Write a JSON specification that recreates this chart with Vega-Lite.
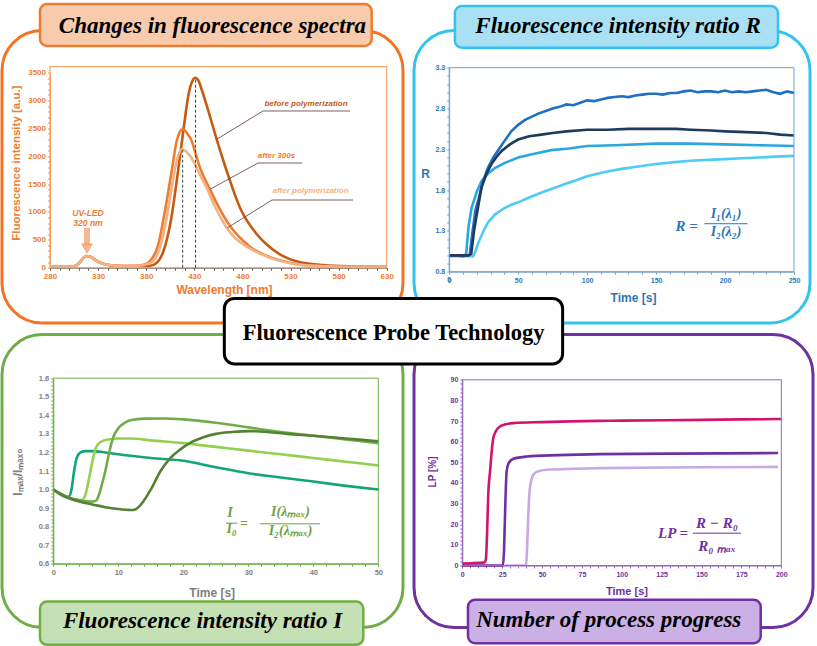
{
  "$schema": "https://vega.github.io/schema/vega-lite/v6.json",
  "background": "white",
  "padding": {"left": 0, "top": 0.5, "right": 0, "bottom": 0},
  "autosize": {"type": "pad"},
  "bounds": "flush",
  "spacing": {"row": 11, "column": 11},
  "columns": 2,
  "resolve": {"scale": {"color": "independent"}},
  "config": {
    "view": {"stroke": null},
    "axis": {"labelFont": "Liberation Sans", "titleFont": "Liberation Sans", "labelFontWeight": "bold", "titleFontWeight": "bold", "grid": false, "labelFlush": false, "labelOverlap": false, "labelBound": false, "tickSize": 2.5, "domainWidth": 1, "tickWidth": 1}
  },
  "concat": [
    {
      "width": 401, "height": 292.5,
      "view": {"stroke": "#f47322", "strokeWidth": 3, "cornerRadius": 40, "fill": null},
      "data": {"values": [{}]},
      "layer": [
        {
          "data": {"values": [
            {"s":"before polymerization","x":280,"y":20},{"s":"before polymerization","x":300,"y":20},{"s":"before polymerization","x":306,"y":30},{"s":"before polymerization","x":310,"y":80},{"s":"before polymerization","x":315,"y":180},{"s":"before polymerization","x":318,"y":210},{"s":"before polymerization","x":322,"y":195},{"s":"before polymerization","x":328,"y":130},{"s":"before polymerization","x":335,"y":70},{"s":"before polymerization","x":345,"y":40},{"s":"before polymerization","x":360,"y":30},{"s":"before polymerization","x":375,"y":28},{"s":"before polymerization","x":384,"y":35},{"s":"before polymerization","x":391,"y":90},{"s":"before polymerization","x":398,"y":300},{"s":"before polymerization","x":406,"y":880},{"s":"before polymerization","x":413,"y":1720},{"s":"before polymerization","x":419,"y":2510},{"s":"before polymerization","x":424,"y":3110},{"s":"before polymerization","x":428,"y":3350},{"s":"before polymerization","x":431,"y":3410},{"s":"before polymerization","x":434,"y":3370},{"s":"before polymerization","x":438,"y":3180},{"s":"before polymerization","x":444.6,"y":2813},{"s":"before polymerization","x":453.3,"y":2305},{"s":"before polymerization","x":463.7,"y":1736},{"s":"before polymerization","x":477.5,"y":1077},{"s":"before polymerization","x":495,"y":600},{"s":"before polymerization","x":505,"y":420},{"s":"before polymerization","x":519,"y":240},{"s":"before polymerization","x":530,"y":150},{"s":"before polymerization","x":543,"y":90},{"s":"before polymerization","x":564,"y":48},{"s":"before polymerization","x":590,"y":25},{"s":"before polymerization","x":630,"y":15},
            {"s":"after 300s","x":280,"y":20},{"s":"after 300s","x":300,"y":20},{"s":"after 300s","x":306,"y":30},{"s":"after 300s","x":310,"y":80},{"s":"after 300s","x":315,"y":180},{"s":"after 300s","x":318,"y":210},{"s":"after 300s","x":322,"y":195},{"s":"after 300s","x":328,"y":130},{"s":"after 300s","x":335,"y":70},{"s":"after 300s","x":345,"y":40},{"s":"after 300s","x":360,"y":30},{"s":"after 300s","x":370,"y":35},{"s":"after 300s","x":377,"y":55},{"s":"after 300s","x":384,"y":120},{"s":"after 300s","x":392.6,"y":420},{"s":"after 300s","x":399.5,"y":1018},{"s":"after 300s","x":406.5,"y":1736},{"s":"after 300s","x":411.7,"y":2274},{"s":"after 300s","x":415,"y":2440},{"s":"after 300s","x":417.5,"y":2484},{"s":"after 300s","x":420,"y":2465},{"s":"after 300s","x":423,"y":2400},{"s":"after 300s","x":427.3,"y":2274},{"s":"after 300s","x":431,"y":2070},{"s":"after 300s","x":435.9,"y":1795},{"s":"after 300s","x":446.3,"y":1407},{"s":"after 300s","x":455,"y":1100},{"s":"after 300s","x":463.7,"y":838},{"s":"after 300s","x":472,"y":640},{"s":"after 300s","x":481,"y":479},{"s":"after 300s","x":490,"y":350},{"s":"after 300s","x":501.7,"y":240},{"s":"after 300s","x":515,"y":150},{"s":"after 300s","x":529.5,"y":90},{"s":"after 300s","x":558,"y":30},{"s":"after 300s","x":590,"y":18},{"s":"after 300s","x":630,"y":12},
            {"s":"after polymerization","x":280,"y":20},{"s":"after polymerization","x":300,"y":20},{"s":"after polymerization","x":306,"y":30},{"s":"after polymerization","x":310,"y":80},{"s":"after polymerization","x":315,"y":180},{"s":"after polymerization","x":318,"y":210},{"s":"after polymerization","x":322,"y":195},{"s":"after polymerization","x":328,"y":130},{"s":"after polymerization","x":335,"y":70},{"s":"after polymerization","x":345,"y":40},{"s":"after polymerization","x":360,"y":30},{"s":"after polymerization","x":372,"y":35},{"s":"after polymerization","x":380,"y":60},{"s":"after polymerization","x":387.4,"y":120},{"s":"after polymerization","x":394.3,"y":359},{"s":"after polymerization","x":401.3,"y":898},{"s":"after polymerization","x":406.5,"y":1436},{"s":"after polymerization","x":411.7,"y":1915},{"s":"after polymerization","x":414.5,"y":2070},{"s":"after polymerization","x":416.9,"y":2125},{"s":"after polymerization","x":419.5,"y":2110},{"s":"after polymerization","x":423,"y":2060},{"s":"after polymerization","x":429,"y":1915},{"s":"after polymerization","x":435,"y":1700},{"s":"after polymerization","x":442.9,"y":1436},{"s":"after polymerization","x":452,"y":1080},{"s":"after polymerization","x":463.7,"y":718},{"s":"after polymerization","x":472,"y":540},{"s":"after polymerization","x":481,"y":419},{"s":"after polymerization","x":495,"y":280},{"s":"after polymerization","x":508.7,"y":180},{"s":"after polymerization","x":522,"y":110},{"s":"after polymerization","x":536,"y":60},{"s":"after polymerization","x":560,"y":30},{"s":"after polymerization","x":600,"y":15},{"s":"after polymerization","x":630,"y":12}
          ]},
          "mark": {"type": "line", "strokeWidth": 2.6, "interpolate": "monotone"},
          "encoding": {
            "x": {"field": "x", "type": "quantitative",
              "scale": {"domain": [280, 630], "range": [48, 384.7], "nice": false, "zero": false},
              "axis": {"tickCount": 35, "labelExpr": "datum.value % 50 === 30 ? datum.label : ''", "offset": -55.3, "labelOverlap": false, "labelFontSize": 8, "labelColor": "#ed7d31", "labelPadding": 2, "tickColor": "#595959", "domainColor": "#595959", "title": "Wavelength [nm]", "titleFontSize": 12, "titleColor": "#ed7d31", "titleX": 222, "titleY": 25.5, "titleAlign": "center", "titleBaseline": "alphabetic", "titleAngle": 0}},
            "y": {"field": "y", "type": "quantitative",
              "scale": {"domain": [0, 3500], "range": [237.2, 42.2], "nice": false, "zero": false},
              "axis": {"tickCount": 35, "format": "d", "labelExpr": "datum.value % 500 === 0 ? datum.label : ''", "offset": -48, "labelOverlap": false, "labelFontSize": 8, "labelColor": "#ed7d31", "labelPadding": 2, "tickColor": "#f08a4b", "domainColor": "#f08a4b", "title": "Fluorescence intensity [a.u.]", "titleFontSize": 11.5, "titleColor": "#ed7d31", "titleX": -34, "titleY": 132.2, "titleAngle": 270, "titleAlign": "center", "titleBaseline": "middle"}},
            "color": {"field": "s", "type": "nominal", "legend": null,
              "scale": {"domain": ["before polymerization", "after 300s", "after polymerization"], "range": ["#c55a11", "#ed7d31", "#f4b183"]}}
          }
        },
        {"mark": {"type": "rect", "fill": null, "stroke": "#f4a56c", "strokeWidth": 1.2},
         "encoding": {"x": {"datum": 280, "type": "quantitative"}, "x2": {"datum": 630}, "y": {"datum": 0, "type": "quantitative"}, "y2": {"datum": 3610}}},
        {"mark": {"type": "rule", "color": "#404040", "strokeWidth": 1, "strokeDash": [3, 2]},
         "encoding": {"x": {"datum": 431.3, "type": "quantitative"}, "y": {"datum": 0, "type": "quantitative"}, "y2": {"datum": 3410}}},
        {"mark": {"type": "rule", "color": "#404040", "strokeWidth": 1, "strokeDash": [3, 2]},
         "encoding": {"x": {"datum": 417.9, "type": "quantitative"}, "y": {"datum": 0, "type": "quantitative"}, "y2": {"datum": 2125}}},
        {"mark": {"type": "rule", "color": "#6b4f4f", "strokeWidth": 0.9},
         "encoding": {"x": {"datum": 501.4, "type": "quantitative"}, "x2": {"datum": 591.9}, "y": {"datum": 2813, "type": "quantitative"}}},
        {"mark": {"type": "rule", "color": "#6b4f4f", "strokeWidth": 0.9},
         "encoding": {"x": {"datum": 501.4, "type": "quantitative"}, "x2": {"datum": 453.3}, "y": {"datum": 2813, "type": "quantitative"}, "y2": {"datum": 2305}}},
        {"mark": {"type": "rule", "color": "#6b4f4f", "strokeWidth": 0.9},
         "encoding": {"x": {"datum": 496.2, "type": "quantitative"}, "x2": {"datum": 542}, "y": {"datum": 1879, "type": "quantitative"}}},
        {"mark": {"type": "rule", "color": "#6b4f4f", "strokeWidth": 0.9},
         "encoding": {"x": {"datum": 496.2, "type": "quantitative"}, "x2": {"datum": 446.3}, "y": {"datum": 1879, "type": "quantitative"}, "y2": {"datum": 1407}}},
        {"mark": {"type": "rule", "color": "#6b4f4f", "strokeWidth": 0.9},
         "encoding": {"x": {"datum": 510.8, "type": "quantitative"}, "x2": {"datum": 595}, "y": {"datum": 1215, "type": "quantitative"}}},
        {"mark": {"type": "rule", "color": "#6b4f4f", "strokeWidth": 0.9},
         "encoding": {"x": {"datum": 510.8, "type": "quantitative"}, "x2": {"datum": 464}, "y": {"datum": 1215, "type": "quantitative"}, "y2": {"datum": 712}}},
        {"mark": {"type": "text", "text": "before polymerization", "font": "Liberation Sans", "fontWeight": "bold", "fontStyle": "italic", "fontSize": 8, "color": "#c55a11", "align": "center", "baseline": "alphabetic"},
         "encoding": {"x": {"datum": 546.1, "type": "quantitative"}, "y": {"datum": 2902, "type": "quantitative"}}},
        {"mark": {"type": "text", "text": "after 300s", "font": "Liberation Sans", "fontWeight": "bold", "fontStyle": "italic", "fontSize": 8, "color": "#ed7d31", "align": "center", "baseline": "alphabetic"},
         "encoding": {"x": {"datum": 515.4, "type": "quantitative"}, "y": {"datum": 1969, "type": "quantitative"}}},
        {"mark": {"type": "text", "text": "after polymerization", "font": "Liberation Sans", "fontWeight": "bold", "fontStyle": "italic", "fontSize": 8, "color": "#f4b183", "align": "center", "baseline": "alphabetic"},
         "encoding": {"x": {"datum": 550.8, "type": "quantitative"}, "y": {"datum": 1341, "type": "quantitative"}}},
        {"mark": {"type": "text", "text": "UV-LED", "font": "Liberation Sans", "fontWeight": "bold", "fontStyle": "italic", "fontSize": 8.5, "color": "#ed7d31", "align": "center", "baseline": "alphabetic"},
         "encoding": {"x": {"datum": 319.5, "type": "quantitative"}, "y": {"datum": 928, "type": "quantitative"}}},
        {"mark": {"type": "text", "text": "320 nm", "font": "Liberation Sans", "fontWeight": "bold", "fontStyle": "italic", "fontSize": 8.5, "color": "#ed7d31", "align": "center", "baseline": "alphabetic"},
         "encoding": {"x": {"datum": 319.5, "type": "quantitative"}, "y": {"datum": 740, "type": "quantitative"}}},
        {"mark": {"type": "rule", "color": "#f6b890", "strokeWidth": 6},
         "encoding": {"x": {"datum": 318.5, "type": "quantitative"}, "y": {"datum": 713, "type": "quantitative"}, "y2": {"datum": 410}}},
        {"mark": {"type": "point", "shape": "triangle-down", "size": 110, "filled": true, "fill": "#f6b890", "stroke": "#ed7d31", "strokeWidth": 0.6, "opacity": 1},
         "encoding": {"x": {"datum": 318.5, "type": "quantitative"}, "y": {"datum": 345, "type": "quantitative"}}},
        {"mark": {"type": "rect", "fill": "#f8cbad", "stroke": "#ed7d31", "strokeWidth": 2.5, "cornerRadius": 7},
         "encoding": {"x": {"datum": 269.6, "type": "quantitative"}, "x2": {"datum": 614.4}, "y": {"datum": 4733, "type": "quantitative"}, "y2": {"datum": 3980}}},
        {"mark": {"type": "text", "text": "Changes in fluorescence spectra", "font": "Liberation Serif", "fontWeight": "bold", "fontStyle": "italic", "fontSize": 23, "color": "#000000", "align": "center", "baseline": "alphabetic"},
         "encoding": {"x": {"datum": 448.9, "type": "quantitative"}, "y": {"datum": 4218, "type": "quantitative"}}}
      ]
    },
    {
      "width": 396, "height": 292.5,
      "view": {"stroke": "#33c3f0", "strokeWidth": 3, "cornerRadius": 40, "fill": null},
      "data": {"values": [{}]},
      "layer": [
        {
          "data": {"values": [
            {"s":"s4","x":0,"y":0.99},{"s":"s4","x":10,"y":0.99},{"s":"s4","x":17.4,"y":0.99},{"s":"s4","x":19,"y":1.05},{"s":"s4","x":21,"y":1.15},{"s":"s4","x":24.9,"y":1.3},{"s":"s4","x":28,"y":1.4},{"s":"s4","x":33.1,"y":1.5},{"s":"s4","x":40,"y":1.58},{"s":"s4","x":45,"y":1.62},{"s":"s4","x":50,"y":1.65},{"s":"s4","x":58,"y":1.71},{"s":"s4","x":66.9,"y":1.77},{"s":"s4","x":75,"y":1.82},{"s":"s4","x":85,"y":1.88},{"s":"s4","x":92,"y":1.92},{"s":"s4","x":100,"y":1.97},{"s":"s4","x":112,"y":2.02},{"s":"s4","x":125,"y":2.06},{"s":"s4","x":137,"y":2.09},{"s":"s4","x":150,"y":2.12},{"s":"s4","x":162,"y":2.14},{"s":"s4","x":175,"y":2.16},{"s":"s4","x":187,"y":2.17},{"s":"s4","x":200,"y":2.18},{"s":"s4","x":212,"y":2.19},{"s":"s4","x":225,"y":2.2},{"s":"s4","x":237,"y":2.21},{"s":"s4","x":250,"y":2.22},
            {"s":"s3","x":0,"y":1.0},{"s":"s3","x":11,"y":1.0},{"s":"s3","x":12.3,"y":1.02},{"s":"s3","x":14,"y":1.35},{"s":"s3","x":16.2,"y":1.58},{"s":"s3","x":20,"y":1.78},{"s":"s3","x":23.4,"y":1.91},{"s":"s3","x":28,"y":2.0},{"s":"s3","x":33.1,"y":2.07},{"s":"s3","x":40,"y":2.13},{"s":"s3","x":50,"y":2.2},{"s":"s3","x":60,"y":2.24},{"s":"s3","x":74,"y":2.29},{"s":"s3","x":87,"y":2.31},{"s":"s3","x":100,"y":2.34},{"s":"s3","x":120,"y":2.35},{"s":"s3","x":150,"y":2.37},{"s":"s3","x":175,"y":2.37},{"s":"s3","x":200,"y":2.36},{"s":"s3","x":225,"y":2.35},{"s":"s3","x":250,"y":2.34},
            {"s":"s1","x":0,"y":1.0},{"s":"s1","x":5,"y":1.0},{"s":"s1","x":10,"y":0.99},{"s":"s1","x":14,"y":1.0},{"s":"s1","x":15,"y":1.02},{"s":"s1","x":17,"y":1.3},{"s":"s1","x":19,"y":1.55},{"s":"s1","x":21,"y":1.67},{"s":"s1","x":24,"y":1.88},{"s":"s1","x":28,"y":2.07},{"s":"s1","x":32,"y":2.2},{"s":"s1","x":36,"y":2.3},{"s":"s1","x":40,"y":2.4},{"s":"s1","x":45,"y":2.52},{"s":"s1","x":50,"y":2.6},{"s":"s1","x":55,"y":2.66},{"s":"s1","x":60,"y":2.7},{"s":"s1","x":65,"y":2.74},{"s":"s1","x":70,"y":2.77},{"s":"s1","x":75,"y":2.8},{"s":"s1","x":80,"y":2.82},{"s":"s1","x":85,"y":2.85},{"s":"s1","x":90,"y":2.84},{"s":"s1","x":95,"y":2.87},{"s":"s1","x":100,"y":2.9},{"s":"s1","x":105,"y":2.89},{"s":"s1","x":110,"y":2.91},{"s":"s1","x":115,"y":2.93},{"s":"s1","x":120,"y":2.94},{"s":"s1","x":125,"y":2.95},{"s":"s1","x":130,"y":2.94},{"s":"s1","x":135,"y":2.96},{"s":"s1","x":140,"y":2.97},{"s":"s1","x":145,"y":2.98},{"s":"s1","x":150,"y":2.98},{"s":"s1","x":155,"y":2.97},{"s":"s1","x":160,"y":2.99},{"s":"s1","x":165,"y":2.99},{"s":"s1","x":170,"y":3.01},{"s":"s1","x":175,"y":3.02},{"s":"s1","x":180,"y":3.0},{"s":"s1","x":185,"y":3.01},{"s":"s1","x":190,"y":3.01},{"s":"s1","x":195,"y":3.0},{"s":"s1","x":200,"y":3.02},{"s":"s1","x":205,"y":3.0},{"s":"s1","x":210,"y":3.01},{"s":"s1","x":215,"y":3.0},{"s":"s1","x":220,"y":3.01},{"s":"s1","x":225,"y":3.02},{"s":"s1","x":230,"y":3.03},{"s":"s1","x":235,"y":3.0},{"s":"s1","x":240,"y":2.98},{"s":"s1","x":245,"y":3.01},{"s":"s1","x":250,"y":2.99},
            {"s":"s2","x":0,"y":1.0},{"s":"s2","x":14,"y":1.0},{"s":"s2","x":16,"y":1.02},{"s":"s2","x":18,"y":1.3},{"s":"s2","x":20,"y":1.5},{"s":"s2","x":23.4,"y":1.83},{"s":"s2","x":27,"y":2.0},{"s":"s2","x":30.7,"y":2.12},{"s":"s2","x":34,"y":2.2},{"s":"s2","x":38,"y":2.28},{"s":"s2","x":44,"y":2.36},{"s":"s2","x":50,"y":2.42},{"s":"s2","x":58,"y":2.46},{"s":"s2","x":66.9,"y":2.48},{"s":"s2","x":75,"y":2.5},{"s":"s2","x":85,"y":2.52},{"s":"s2","x":100,"y":2.54},{"s":"s2","x":115,"y":2.54},{"s":"s2","x":130,"y":2.55},{"s":"s2","x":150,"y":2.55},{"s":"s2","x":165,"y":2.55},{"s":"s2","x":175,"y":2.54},{"s":"s2","x":190,"y":2.53},{"s":"s2","x":200,"y":2.52},{"s":"s2","x":215,"y":2.51},{"s":"s2","x":230,"y":2.5},{"s":"s2","x":240,"y":2.48},{"s":"s2","x":250,"y":2.47}
          ]},
          "mark": {"type": "line", "strokeWidth": 2.6},
          "encoding": {
            "x": {"field": "x", "type": "quantitative",
              "scale": {"domain": [0, 250], "range": [35.2, 380], "nice": false, "zero": false},
              "axis": {"tickCount": 25, "labelExpr": "datum.value % 50 === 0 ? format(datum.value, 'd') : ''", "offset": -51.3, "labelOverlap": false, "labelFontSize": 7, "labelColor": "#2e75b6", "labelPadding": 2, "tickColor": "#7f9fbf", "domainColor": "#7f9fbf", "title": "Time [s]", "titleFontSize": 12, "titleColor": "#2e75b6", "titleX": 219, "titleY": 29.3, "titleAlign": "center", "titleBaseline": "alphabetic", "titleAngle": 0}},
            "y": {"field": "y", "type": "quantitative",
              "scale": {"domain": [0.8, 3.3], "range": [241.2, 37.2], "nice": false, "zero": false},
              "axis": {"tickCount": 25, "labelExpr": "round(datum.value * 10) % 5 === 3 ? format(datum.value, '.1f') : ''", "offset": -35.2, "labelOverlap": false, "labelFontSize": 7, "labelColor": "#2e75b6", "labelPadding": 2, "tickColor": "#7f9fbf", "domainColor": "#7f9fbf", "title": "R", "titleFontSize": 12, "titleColor": "#2e75b6", "titleX": -24, "titleY": 142.5, "titleAngle": 0, "titleAlign": "center", "titleBaseline": "middle"}},
            "color": {"field": "s", "type": "nominal", "legend": null,
              "scale": {"domain": ["s1", "s2", "s3", "s4"], "range": ["#1f6fc4", "#1e3b5e", "#2aa7de", "#4fcbf5"]}}
          }
        },
        {"mark": {"type": "rect", "fill": null, "stroke": "#6fa3d8", "strokeWidth": 1},
         "encoding": {"x": {"datum": 0, "type": "quantitative"}, "x2": {"datum": 250}, "y": {"datum": 0.8, "type": "quantitative"}, "y2": {"datum": 3.3}}},
        {"mark": {"type": "text", "text": "0", "font": "Liberation Sans", "fontWeight": "bold", "fontSize": 7, "color": "#2e75b6", "align": "center", "baseline": "top", "dy": 4.5},
         "encoding": {"x": {"datum": 0, "type": "quantitative"}, "y": {"datum": 0.8, "type": "quantitative"}}},
        {"mark": {"type": "text", "text": "R =", "font": "Liberation Serif", "fontWeight": "bold", "fontStyle": "italic", "fontSize": 15, "color": "#2e75b6", "align": "center", "baseline": "alphabetic"},
         "encoding": {"x": {"datum": 172.1, "type": "quantitative"}, "y": {"datum": 1.299, "type": "quantitative"}}},
        {"mark": {"type": "text", "text": "I₁(λ₁)", "font": "Liberation Serif", "fontWeight": "bold", "fontStyle": "italic", "fontSize": 14, "color": "#2e75b6", "align": "center", "baseline": "alphabetic"},
         "encoding": {"x": {"datum": 200.7, "type": "quantitative"}, "y": {"datum": 1.454, "type": "quantitative"}}},
        {"mark": {"type": "rule", "color": "#2e75b6", "strokeWidth": 1},
         "encoding": {"x": {"datum": 185, "type": "quantitative"}, "x2": {"datum": 216.2}, "y": {"datum": 1.388, "type": "quantitative"}}},
        {"mark": {"type": "text", "text": "I₂(λ₂)", "font": "Liberation Serif", "fontWeight": "bold", "fontStyle": "italic", "fontSize": 14, "color": "#2e75b6", "align": "center", "baseline": "alphabetic"},
         "encoding": {"x": {"datum": 200.7, "type": "quantitative"}, "y": {"datum": 1.2375, "type": "quantitative"}}},
        {"mark": {"type": "rect", "fill": "#a9e0f4", "stroke": "#33c3f0", "strokeWidth": 2.5, "cornerRadius": 7},
         "encoding": {"x": {"datum": 4.13, "type": "quantitative"}, "x2": {"datum": 238.4}, "y": {"datum": 4.056, "type": "quantitative"}, "y2": {"datum": 3.545}}},
        {"mark": {"type": "text", "text": "Fluorescence intensity ratio R", "font": "Liberation Serif", "fontWeight": "bold", "fontStyle": "italic", "fontSize": 23, "color": "#000000", "align": "center", "baseline": "alphabetic"},
         "encoding": {"x": {"datum": 122.5, "type": "quantitative"}, "y": {"datum": 3.729, "type": "quantitative"}}}
      ]
    },
    {
      "width": 401, "height": 293,
      "view": {"stroke": "#70ad47", "strokeWidth": 3, "cornerRadius": 40, "fill": null},
      "data": {"values": [{}]},
      "layer": [
        {
          "data": {"values": [
            {"s":"g1","x":0,"y":1.0},{"s":"g1","x":1,"y":0.975},{"s":"g1","x":2,"y":0.96},{"s":"g1","x":2.4,"y":0.962},{"s":"g1","x":2.8,"y":1.0},{"s":"g1","x":3.2,"y":1.1},{"s":"g1","x":3.6,"y":1.17},{"s":"g1","x":4.2,"y":1.2},{"s":"g1","x":5,"y":1.207},{"s":"g1","x":6,"y":1.207},{"s":"g1","x":8,"y":1.2},{"s":"g1","x":10,"y":1.19},{"s":"g1","x":15,"y":1.17},{"s":"g1","x":20,"y":1.155},{"s":"g1","x":25,"y":1.12},{"s":"g1","x":30,"y":1.088},{"s":"g1","x":35,"y":1.065},{"s":"g1","x":40,"y":1.043},{"s":"g1","x":45,"y":1.02},{"s":"g1","x":50,"y":1.0},
            {"s":"g2","x":0,"y":1.0},{"s":"g2","x":2,"y":0.96},{"s":"g2","x":4,"y":0.943},{"s":"g2","x":4.5,"y":0.945},{"s":"g2","x":5,"y":0.98},{"s":"g2","x":5.5,"y":1.06},{"s":"g2","x":6,"y":1.15},{"s":"g2","x":6.5,"y":1.22},{"s":"g2","x":7.2,"y":1.255},{"s":"g2","x":8.5,"y":1.27},{"s":"g2","x":10,"y":1.275},{"s":"g2","x":12,"y":1.275},{"s":"g2","x":15,"y":1.265},{"s":"g2","x":20,"y":1.25},{"s":"g2","x":25,"y":1.23},{"s":"g2","x":30,"y":1.21},{"s":"g2","x":35,"y":1.19},{"s":"g2","x":40,"y":1.17},{"s":"g2","x":45,"y":1.15},{"s":"g2","x":50,"y":1.13},
            {"s":"g3","x":0,"y":1.0},{"s":"g3","x":3,"y":0.95},{"s":"g3","x":6,"y":0.935},{"s":"g3","x":6.6,"y":0.94},{"s":"g3","x":7,"y":0.97},{"s":"g3","x":7.5,"y":1.03},{"s":"g3","x":8,"y":1.1},{"s":"g3","x":8.6,"y":1.2},{"s":"g3","x":9.2,"y":1.28},{"s":"g3","x":10,"y":1.33},{"s":"g3","x":11,"y":1.36},{"s":"g3","x":12,"y":1.375},{"s":"g3","x":14,"y":1.382},{"s":"g3","x":17,"y":1.383},{"s":"g3","x":20,"y":1.378},{"s":"g3","x":25,"y":1.36},{"s":"g3","x":30,"y":1.335},{"s":"g3","x":35,"y":1.31},{"s":"g3","x":40,"y":1.29},{"s":"g3","x":45,"y":1.27},{"s":"g3","x":50,"y":1.25},
            {"s":"g4","x":0,"y":1.0},{"s":"g4","x":2,"y":0.96},{"s":"g4","x":4,"y":0.935},{"s":"g4","x":6,"y":0.92},{"s":"g4","x":8,"y":0.905},{"s":"g4","x":10,"y":0.895},{"s":"g4","x":12,"y":0.89},{"s":"g4","x":12.6,"y":0.893},{"s":"g4","x":13.5,"y":0.92},{"s":"g4","x":15,"y":1.0},{"s":"g4","x":16.5,"y":1.1},{"s":"g4","x":18,"y":1.17},{"s":"g4","x":19.5,"y":1.215},{"s":"g4","x":21,"y":1.25},{"s":"g4","x":23,"y":1.28},{"s":"g4","x":25,"y":1.3},{"s":"g4","x":27.5,"y":1.31},{"s":"g4","x":30,"y":1.315},{"s":"g4","x":33,"y":1.31},{"s":"g4","x":36,"y":1.3},{"s":"g4","x":40,"y":1.29},{"s":"g4","x":45,"y":1.275},{"s":"g4","x":50,"y":1.26}
          ]},
          "mark": {"type": "line", "strokeWidth": 2.6, "interpolate": "monotone"},
          "encoding": {
            "x": {"field": "x", "type": "quantitative",
              "scale": {"domain": [0, 50], "range": [51.3, 376.3], "nice": false, "zero": false},
              "axis": {"tickCount": 25, "labelExpr": "datum.value % 10 === 0 ? format(datum.value, 'd') : ''", "offset": -63.7, "labelOverlap": false, "labelFontSize": 7.5, "labelColor": "#7f7f7f", "labelPadding": 2, "tickColor": "#70ad47", "domainColor": "#70ad47", "title": "Time [s]", "titleFontSize": 12, "titleColor": "#7f7f7f", "titleX": 209.7, "titleY": 32.7, "titleAlign": "center", "titleBaseline": "alphabetic", "titleAngle": 0}},
            "y": {"field": "y", "type": "quantitative",
              "scale": {"domain": [0.6, 1.6], "range": [229.3, 43.7], "nice": false, "zero": false},
              "axis": {"tickCount": 50, "labelExpr": "abs(datum.value * 10 - round(datum.value * 10)) < 0.001 ? format(datum.value, '.1f') : ''", "offset": -51.3, "labelOverlap": false, "labelFontSize": 7.5, "labelColor": "#7f7f7f", "labelPadding": 2, "tickColor": "#70ad47", "domainColor": "#70ad47", "title": "Iₘₐₓ/Iₘₐₓ₀", "titleFontSize": 12, "titleColor": "#7f7f7f", "titleX": -36.3, "titleY": 137, "titleAngle": 270, "titleAlign": "center", "titleBaseline": "middle"}},
            "color": {"field": "s", "type": "nominal", "legend": null,
              "scale": {"domain": ["g1", "g2", "g3", "g4"], "range": ["#12a57a", "#92d050", "#70ad47", "#548235"]}}
          }
        },
        {"mark": {"type": "rect", "fill": null, "stroke": "#70ad47", "strokeWidth": 1},
         "encoding": {"x": {"datum": 0, "type": "quantitative"}, "x2": {"datum": 50}, "y": {"datum": 0.6, "type": "quantitative"}, "y2": {"datum": 1.6}}},
        {"mark": {"type": "text", "text": "I", "font": "Liberation Serif", "fontWeight": "bold", "fontStyle": "italic", "fontSize": 14, "color": "#6aa341", "align": "center", "baseline": "alphabetic"},
         "encoding": {"x": {"datum": 27.18, "type": "quantitative"}, "y": {"datum": 0.8548, "type": "quantitative"}}},
        {"mark": {"type": "rule", "color": "#6aa341", "strokeWidth": 1},
         "encoding": {"x": {"datum": 26.57, "type": "quantitative"}, "x2": {"datum": 28.31}, "y": {"datum": 0.8188, "type": "quantitative"}}},
        {"mark": {"type": "text", "text": "I₀", "font": "Liberation Serif", "fontWeight": "bold", "fontStyle": "italic", "fontSize": 14, "color": "#6aa341", "align": "center", "baseline": "alphabetic"},
         "encoding": {"x": {"datum": 27.43, "type": "quantitative"}, "y": {"datum": 0.7649, "type": "quantitative"}}},
        {"mark": {"type": "text", "text": "=", "font": "Liberation Serif", "fontWeight": "bold", "fontSize": 14, "color": "#6aa341", "align": "center", "baseline": "middle"},
         "encoding": {"x": {"datum": 29.34, "type": "quantitative"}, "y": {"datum": 0.8134, "type": "quantitative"}}},
        {"mark": {"type": "text", "text": "I(λₘₐₓ)", "font": "Liberation Serif", "fontWeight": "bold", "fontStyle": "italic", "fontSize": 14, "color": "#6aa341", "align": "center", "baseline": "alphabetic"},
         "encoding": {"x": {"datum": 36.49, "type": "quantitative"}, "y": {"datum": 0.8602, "type": "quantitative"}}},
        {"mark": {"type": "rule", "color": "#6aa341", "strokeWidth": 1},
         "encoding": {"x": {"datum": 31.8, "type": "quantitative"}, "x2": {"datum": 41.03}, "y": {"datum": 0.8155, "type": "quantitative"}}},
        {"mark": {"type": "text", "text": "I₂(λₘₐₓ)", "font": "Liberation Serif", "fontWeight": "bold", "fontStyle": "italic", "fontSize": 14, "color": "#6aa341", "align": "center", "baseline": "alphabetic"},
         "encoding": {"x": {"datum": 36.5, "type": "quantitative"}, "y": {"datum": 0.7563, "type": "quantitative"}}},
        {"mark": {"type": "rect", "fill": "#c5e0b4", "stroke": "#70ad47", "strokeWidth": 2.5, "cornerRadius": 7},
         "encoding": {"x": {"datum": -2.05, "type": "quantitative"}, "x2": {"datum": 47.69}, "y": {"datum": 0.397, "type": "quantitative"}, "y2": {"datum": 0.1636}}},
        {"mark": {"type": "text", "text": "Fluorescence intensity ratio I", "font": "Liberation Serif", "fontWeight": "bold", "fontStyle": "italic", "fontSize": 23, "color": "#000000", "align": "center", "baseline": "alphabetic"},
         "encoding": {"x": {"datum": 22.95, "type": "quantitative"}, "y": {"datum": 0.253, "type": "quantitative"}}}
      ]
    },
    {
      "width": 399, "height": 293,
      "view": {"stroke": "#7030a0", "strokeWidth": 3, "cornerRadius": 40, "fill": null},
      "data": {"values": [{}]},
      "layer": [
        {
          "data": {"values": [
            {"s":"p3","x":26.8,"y":0},{"s":"p3","x":40,"y":0},{"s":"p3","x":40.6,"y":8},{"s":"p3","x":41.4,"y":25},{"s":"p3","x":42.4,"y":37.5},{"s":"p3","x":44.5,"y":44},{"s":"p3","x":47,"y":45.5},{"s":"p3","x":52.9,"y":46.4},{"s":"p3","x":86,"y":47.2},{"s":"p3","x":130,"y":47.5},{"s":"p3","x":198,"y":47.8},
            {"s":"p2","x":0,"y":0},{"s":"p2","x":25.5,"y":0},{"s":"p2","x":26.2,"y":8},{"s":"p2","x":26.8,"y":25},{"s":"p2","x":27.8,"y":45.6},{"s":"p2","x":29,"y":49.5},{"s":"p2","x":32,"y":51.7},{"s":"p2","x":40.4,"y":52.8},{"s":"p2","x":60,"y":53.5},{"s":"p2","x":86,"y":54},{"s":"p2","x":130,"y":54.2},{"s":"p2","x":198,"y":54.5},
            {"s":"p1","x":0,"y":1},{"s":"p1","x":5,"y":1.1},{"s":"p1","x":10,"y":1.3},{"s":"p1","x":14,"y":1.5},{"s":"p1","x":14.8,"y":3},{"s":"p1","x":15.5,"y":15},{"s":"p1","x":16.3,"y":35},{"s":"p1","x":17.4,"y":45.6},{"s":"p1","x":18.4,"y":55},{"s":"p1","x":19.4,"y":61.7},{"s":"p1","x":21,"y":65},{"s":"p1","x":23.6,"y":67.4},{"s":"p1","x":27,"y":68.4},{"s":"p1","x":32,"y":69},{"s":"p1","x":50,"y":69.5},{"s":"p1","x":86,"y":70.1},{"s":"p1","x":100,"y":70.2},{"s":"p1","x":150,"y":70.6},{"s":"p1","x":200,"y":71}
          ]},
          "mark": {"type": "line", "strokeWidth": 2.6, "interpolate": "monotone"},
          "encoding": {
            "x": {"field": "x", "type": "quantitative",
              "scale": {"domain": [0, 200], "range": [48.3, 367.3], "nice": false, "zero": false},
              "axis": {"tickCount": 40, "labelExpr": "datum.value % 25 === 0 ? format(datum.value, 'd') : ''", "offset": -62, "labelOverlap": false, "labelFontSize": 7, "labelColor": "#7030a0", "labelPadding": 2, "tickColor": "#9467bd", "domainColor": "#9467bd", "title": "Time [s]", "titleFontSize": 11, "titleColor": "#7030a0", "titleX": 212.5, "titleY": 28.7, "titleAlign": "center", "titleBaseline": "alphabetic", "titleAngle": 0}},
            "y": {"field": "y", "type": "quantitative",
              "scale": {"domain": [0, 90], "range": [231, 45.3], "nice": false, "zero": false},
              "axis": {"tickCount": 45, "labelExpr": "datum.value % 10 === 0 ? format(datum.value, 'd') : ''", "offset": -48.3, "labelOverlap": false, "labelFontSize": 7, "labelColor": "#7030a0", "labelPadding": 2, "tickColor": "#9467bd", "domainColor": "#9467bd", "title": "LP [%]", "titleFontSize": 10, "titleColor": "#7030a0", "titleX": -30.3, "titleY": 137, "titleAngle": 270, "titleAlign": "center", "titleBaseline": "middle"}},
            "color": {"field": "s", "type": "nominal", "legend": null,
              "scale": {"domain": ["p1", "p2", "p3"], "range": ["#d4146c", "#7030a0", "#c9a8e6"]}}
          }
        },
        {"mark": {"type": "rect", "fill": null, "stroke": "#9467bd", "strokeWidth": 1},
         "encoding": {"x": {"datum": 0, "type": "quantitative"}, "x2": {"datum": 200}, "y": {"datum": 0, "type": "quantitative"}, "y2": {"datum": 90}}},
        {"mark": {"type": "text", "text": "LP =", "font": "Liberation Serif", "fontWeight": "bold", "fontStyle": "italic", "fontSize": 15, "color": "#7030a0", "align": "center", "baseline": "alphabetic"},
         "encoding": {"x": {"datum": 132.1, "type": "quantitative"}, "y": {"datum": 13.23, "type": "quantitative"}}},
        {"mark": {"type": "text", "text": "R − R₀", "font": "Liberation Serif", "fontWeight": "bold", "fontStyle": "italic", "fontSize": 15, "color": "#7030a0", "align": "center", "baseline": "alphabetic"},
         "encoding": {"x": {"datum": 159.7, "type": "quantitative"}, "y": {"datum": 18.08, "type": "quantitative"}}},
        {"mark": {"type": "rule", "color": "#7030a0", "strokeWidth": 1},
         "encoding": {"x": {"datum": 144.6, "type": "quantitative"}, "x2": {"datum": 174.7}, "y": {"datum": 15.66, "type": "quantitative"}}},
        {"mark": {"type": "text", "text": "R₀ ₘₐₓ", "font": "Liberation Serif", "fontWeight": "bold", "fontStyle": "italic", "fontSize": 15, "color": "#7030a0", "align": "center", "baseline": "alphabetic"},
         "encoding": {"x": {"datum": 159.7, "type": "quantitative"}, "y": {"datum": 6.79, "type": "quantitative"}}},
        {"mark": {"type": "rect", "fill": "#cbb0e6", "stroke": "#7030a0", "strokeWidth": 2.5, "cornerRadius": 7},
         "encoding": {"x": {"datum": 3.57, "type": "quantitative"}, "x2": {"datum": 187.1}, "y": {"datum": -16.6, "type": "quantitative"}, "y2": {"datum": -37.7}}},
        {"mark": {"type": "text", "text": "Number of process progress", "font": "Liberation Serif", "fontWeight": "bold", "fontStyle": "italic", "fontSize": 23, "color": "#000000", "align": "center", "baseline": "alphabetic"},
         "encoding": {"x": {"datum": 91.8, "type": "quantitative"}, "y": {"datum": -29.6, "type": "quantitative"}}},
        {"mark": {"type": "rect", "fill": "#ffffff", "stroke": "#000000", "strokeWidth": 3, "cornerRadius": 10},
         "encoding": {"x": {"datum": -149.2, "type": "quantitative"}, "x2": {"datum": 62.9}, "y": {"datum": 129.4, "type": "quantitative"}, "y2": {"datum": 97.7}}},
        {"mark": {"type": "text", "text": "Fluorescence Probe Technology", "font": "Liberation Serif", "fontWeight": "bold", "fontSize": 22.5, "color": "#000000", "align": "center", "baseline": "alphabetic"},
         "encoding": {"x": {"datum": -43.1, "type": "quantitative"}, "y": {"datum": 109.4, "type": "quantitative"}}}
      ]
    }
  ]
}
